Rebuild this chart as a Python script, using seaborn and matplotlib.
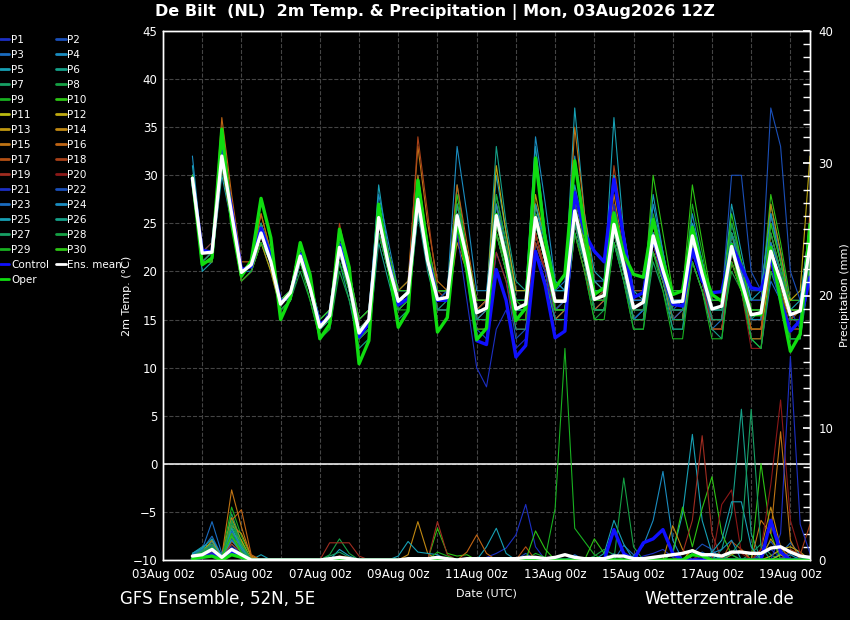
import pandas as pd
import matplotlib
matplotlib.use('Agg')
import matplotlib.pyplot as plt
import matplotlib.dates as mdates
from matplotlib.ticker import MultipleLocator
import seaborn as sns

# 6-hourly steps, 03Aug 18z .. 19Aug 12z
times = pd.date_range('2026-08-03 18:00', periods=64, freq='6h')

"""2m temperature (degC), groups of 4 = 18z, 00z, 06z, 12z"""
t_P1 = [30, 22, 22, 32, 26, 20, 21, 24, 21, 17, 18, 22, 18, 14, 16, 23, 19, 14, 15, 26, 21, 17, 18, 28, 22, 18, 18, 27, 22, 16, 16, 24,
        20, 15, 15, 23, 20, 16, 17, 27, 22, 18, 18, 26, 21, 17, 17, 24, 21, 17, 17, 23, 19, 16, 16, 21, 18, 15, 15, 20, 18, 14, 14, 21]
t_P2 = [29, 22, 22, 32, 26, 20, 20, 24, 21, 16, 17, 21, 18, 14, 15, 22, 18, 13, 14, 24, 20, 16, 17, 26, 21, 16, 16, 24, 20, 14, 13, 22,
        19, 13, 14, 23, 20, 15, 16, 25, 21, 16, 17, 24, 20, 15, 16, 22, 19, 16, 17, 25, 21, 17, 17, 30, 30, 20, 18, 26, 22, 17, 17, 23]
t_P3 = [30, 21, 22, 31, 25, 20, 21, 25, 22, 17, 18, 22, 19, 15, 16, 23, 20, 14, 15, 27, 22, 18, 18, 29, 22, 18, 18, 26, 22, 17, 17, 27,
        23, 17, 17, 26, 22, 18, 19, 28, 23, 19, 19, 25, 21, 16, 17, 24, 21, 18, 18, 22, 19, 14, 15, 21, 18, 13, 12, 19, 17, 13, 13, 22]
t_P4 = [32, 22, 23, 32, 26, 20, 21, 24, 21, 16, 17, 21, 18, 14, 15, 22, 18, 13, 14, 25, 21, 17, 17, 27, 21, 17, 18, 27, 22, 16, 17, 28,
        23, 17, 17, 27, 22, 17, 17, 25, 21, 16, 16, 24, 20, 15, 16, 25, 21, 17, 17, 24, 20, 17, 17, 25, 21, 17, 17, 24, 20, 16, 16, 23]
t_P5 = [30, 20, 21, 30, 25, 19, 20, 23, 21, 17, 18, 21, 18, 14, 15, 24, 19, 13, 15, 29, 22, 17, 18, 27, 21, 17, 17, 25, 22, 16, 17, 30,
        24, 18, 18, 33, 24, 19, 18, 37, 26, 20, 19, 36, 24, 18, 18, 28, 22, 17, 17, 25, 20, 16, 16, 23, 19, 15, 15, 22, 19, 15, 16, 25]
t_P6 = [29, 22, 23, 33, 27, 20, 21, 25, 21, 17, 17, 21, 18, 13, 14, 21, 17, 12, 13, 23, 19, 15, 16, 26, 20, 16, 17, 29, 22, 17, 17, 33,
        25, 19, 18, 31, 24, 18, 18, 27, 22, 17, 18, 26, 21, 16, 17, 24, 20, 15, 15, 22, 19, 15, 15, 23, 20, 15, 16, 23, 20, 16, 16, 24]
t_P7 = [30, 22, 22, 32, 26, 20, 21, 24, 21, 16, 17, 22, 18, 14, 15, 23, 19, 14, 15, 26, 21, 17, 18, 28, 21, 17, 17, 26, 21, 16, 16, 25,
        21, 15, 15, 24, 20, 16, 16, 26, 21, 16, 16, 23, 19, 14, 14, 21, 18, 14, 14, 22, 19, 15, 15, 24, 21, 17, 17, 27, 22, 16, 16, 22]
t_P8 = [29, 21, 21, 31, 25, 19, 20, 23, 20, 16, 17, 20, 17, 13, 14, 20, 17, 13, 15, 26, 22, 18, 19, 30, 23, 18, 18, 26, 21, 15, 16, 27,
        22, 16, 16, 24, 20, 15, 15, 24, 20, 15, 16, 25, 21, 15, 15, 22, 19, 15, 15, 22, 19, 14, 14, 20, 18, 13, 13, 21, 18, 14, 14, 20]
t_P9 = [30, 22, 22, 32, 26, 20, 21, 25, 22, 17, 18, 22, 19, 14, 15, 22, 18, 13, 14, 24, 20, 16, 16, 26, 21, 17, 17, 27, 22, 17, 17, 28,
        23, 17, 16, 25, 21, 16, 17, 26, 22, 17, 17, 25, 21, 16, 16, 26, 22, 17, 17, 27, 22, 16, 16, 24, 19, 14, 14, 20, 18, 14, 14, 21]
t_P10 = [30, 22, 22, 33, 27, 20, 21, 25, 21, 17, 18, 23, 19, 15, 16, 24, 20, 15, 16, 27, 22, 17, 17, 27, 21, 17, 17, 25, 21, 16, 16, 24,
         21, 16, 16, 26, 22, 17, 17, 28, 23, 18, 18, 26, 21, 16, 16, 24, 20, 16, 16, 23, 20, 15, 15, 24, 21, 17, 17, 28, 23, 17, 17, 25]
t_P11 = [29, 22, 22, 32, 26, 20, 21, 24, 21, 17, 18, 22, 18, 14, 15, 23, 19, 14, 15, 26, 21, 17, 18, 28, 22, 18, 18, 26, 21, 15, 16, 26,
         22, 16, 16, 27, 23, 17, 17, 28, 23, 18, 18, 26, 21, 17, 17, 25, 20, 16, 16, 22, 19, 15, 15, 21, 18, 14, 14, 20, 18, 15, 16, 24]
t_P12 = [30, 22, 22, 32, 26, 20, 20, 24, 21, 16, 17, 21, 18, 14, 15, 22, 18, 14, 15, 25, 21, 17, 18, 27, 22, 17, 17, 26, 21, 16, 17, 31,
         24, 18, 18, 26, 21, 16, 16, 25, 21, 16, 16, 23, 20, 15, 15, 22, 19, 15, 15, 23, 20, 16, 16, 24, 20, 16, 16, 22, 19, 17, 18, 32]
t_P13 = [29, 21, 21, 31, 25, 19, 20, 23, 20, 16, 17, 21, 18, 14, 15, 22, 18, 14, 15, 26, 21, 17, 17, 29, 22, 17, 17, 27, 22, 16, 16, 26,
         22, 16, 16, 28, 23, 17, 17, 27, 22, 17, 17, 24, 20, 15, 15, 23, 19, 15, 15, 21, 18, 14, 14, 22, 19, 15, 15, 26, 21, 16, 16, 25]
t_P14 = [30, 22, 22, 33, 26, 20, 21, 25, 21, 17, 18, 22, 19, 14, 15, 23, 19, 14, 15, 25, 21, 17, 17, 27, 21, 16, 16, 23, 20, 14, 14, 24,
         20, 15, 15, 24, 20, 15, 16, 27, 22, 17, 17, 25, 20, 15, 15, 22, 19, 15, 16, 24, 20, 16, 16, 23, 20, 16, 16, 27, 22, 16, 16, 23]
t_P15 = [30, 22, 22, 35, 27, 20, 21, 26, 22, 17, 18, 22, 19, 14, 15, 23, 19, 14, 15, 26, 22, 18, 19, 33, 25, 19, 18, 26, 21, 16, 16, 25,
         21, 15, 16, 26, 22, 17, 17, 35, 26, 19, 18, 28, 22, 16, 16, 24, 20, 15, 15, 24, 20, 15, 15, 22, 19, 14, 14, 21, 18, 14, 14, 22]
t_P16 = [29, 21, 22, 36, 28, 21, 21, 26, 22, 17, 17, 21, 18, 14, 15, 22, 18, 13, 14, 24, 21, 17, 18, 30, 23, 18, 18, 29, 23, 17, 17, 27,
         22, 16, 16, 24, 20, 15, 15, 25, 21, 16, 17, 27, 22, 17, 17, 25, 20, 15, 16, 22, 19, 14, 14, 21, 18, 13, 13, 24, 20, 15, 15, 26]
t_P17 = [30, 22, 22, 32, 26, 20, 21, 24, 21, 16, 17, 22, 18, 14, 15, 24, 20, 14, 15, 24, 20, 16, 17, 27, 21, 16, 16, 25, 21, 15, 15, 24,
         20, 15, 15, 24, 20, 15, 15, 24, 20, 16, 16, 26, 21, 17, 17, 24, 20, 16, 16, 22, 19, 15, 15, 21, 18, 14, 14, 22, 19, 15, 15, 21]
t_P18 = [29, 22, 22, 32, 26, 20, 21, 25, 22, 17, 17, 23, 19, 14, 15, 25, 20, 15, 16, 26, 21, 17, 18, 34, 26, 18, 17, 26, 21, 16, 17, 25,
         21, 16, 16, 23, 20, 16, 17, 27, 22, 17, 18, 31, 24, 18, 18, 24, 20, 16, 16, 23, 20, 16, 16, 24, 20, 15, 15, 22, 19, 15, 16, 24]
t_P19 = [30, 22, 22, 31, 25, 19, 20, 24, 21, 17, 18, 22, 18, 14, 15, 22, 18, 14, 15, 25, 21, 17, 18, 27, 21, 16, 16, 24, 20, 15, 15, 22,
         19, 14, 14, 22, 19, 15, 15, 25, 21, 17, 17, 26, 21, 17, 17, 23, 19, 16, 16, 22, 19, 14, 14, 22, 19, 15, 15, 23, 20, 15, 15, 22]
t_P20 = [30, 22, 23, 32, 26, 20, 21, 24, 21, 17, 17, 21, 18, 14, 15, 23, 19, 14, 15, 27, 22, 17, 17, 27, 21, 17, 17, 27, 22, 16, 16, 25,
         21, 15, 15, 24, 20, 16, 16, 26, 22, 18, 18, 27, 22, 17, 17, 25, 21, 17, 17, 24, 20, 16, 16, 22, 18, 12, 12, 20, 18, 14, 14, 21]
t_P21 = [29, 22, 22, 32, 26, 20, 21, 24, 21, 16, 17, 21, 18, 14, 15, 22, 18, 13, 14, 24, 20, 16, 17, 26, 21, 16, 16, 24, 17, 10, 8, 14,
         16, 12, 13, 22, 20, 15, 15, 26, 22, 17, 17, 27, 22, 17, 17, 25, 21, 16, 16, 22, 19, 15, 15, 24, 21, 17, 17, 26, 21, 16, 14, 21]
t_P22 = [30, 22, 22, 32, 26, 20, 21, 24, 21, 17, 18, 22, 19, 14, 15, 22, 18, 14, 15, 25, 21, 17, 17, 28, 22, 17, 18, 26, 21, 16, 16, 26,
         22, 16, 16, 25, 21, 16, 17, 27, 22, 17, 17, 25, 21, 16, 16, 24, 20, 15, 16, 23, 20, 16, 16, 24, 21, 18, 18, 37, 33, 20, 17, 22]
t_P23 = [30, 22, 22, 32, 26, 20, 20, 24, 21, 16, 17, 21, 18, 14, 15, 23, 19, 14, 15, 26, 22, 17, 17, 27, 21, 17, 17, 25, 21, 15, 16, 26,
         22, 16, 16, 25, 21, 16, 16, 25, 21, 16, 16, 23, 19, 15, 16, 24, 21, 17, 17, 25, 21, 16, 16, 23, 20, 16, 16, 23, 20, 15, 15, 22]
t_P24 = [30, 22, 22, 32, 26, 20, 21, 25, 22, 17, 18, 23, 19, 15, 16, 24, 20, 15, 16, 28, 23, 18, 18, 28, 22, 18, 18, 33, 26, 18, 18, 27,
         22, 17, 17, 34, 27, 19, 18, 32, 25, 18, 18, 30, 23, 17, 17, 27, 22, 17, 17, 26, 21, 16, 16, 24, 20, 15, 15, 23, 20, 15, 15, 23]
t_P25 = [31, 22, 22, 31, 26, 20, 21, 25, 21, 17, 18, 23, 18, 14, 15, 24, 19, 14, 15, 27, 22, 17, 18, 29, 22, 17, 17, 26, 21, 16, 16, 26,
         22, 16, 16, 27, 23, 18, 18, 29, 24, 19, 18, 30, 24, 18, 17, 24, 20, 16, 16, 25, 21, 17, 17, 27, 22, 17, 18, 26, 21, 16, 17, 25]
t_P26 = [30, 21, 22, 32, 26, 20, 21, 24, 21, 16, 17, 21, 18, 14, 15, 23, 18, 14, 15, 25, 21, 17, 17, 27, 22, 17, 17, 27, 22, 16, 16, 24,
         20, 14, 14, 22, 19, 15, 15, 24, 21, 16, 16, 23, 20, 15, 15, 22, 19, 14, 14, 21, 18, 14, 13, 22, 19, 13, 12, 20, 17, 13, 13, 20]
t_P27 = [30, 22, 22, 32, 26, 20, 21, 25, 21, 17, 17, 22, 18, 14, 15, 22, 18, 13, 14, 24, 20, 16, 17, 26, 21, 16, 16, 25, 21, 15, 15, 25,
         21, 16, 16, 25, 21, 16, 16, 25, 21, 16, 16, 24, 20, 15, 15, 23, 20, 15, 15, 23, 20, 15, 15, 24, 21, 16, 16, 25, 21, 16, 16, 23]
t_P28 = [29, 22, 22, 32, 26, 20, 21, 24, 21, 17, 18, 22, 18, 14, 15, 23, 19, 14, 15, 26, 21, 17, 18, 28, 22, 18, 18, 26, 21, 16, 16, 26,
         22, 16, 16, 26, 21, 17, 17, 26, 21, 16, 16, 24, 21, 16, 16, 23, 20, 16, 16, 24, 20, 16, 16, 25, 21, 16, 16, 24, 20, 15, 15, 22]
t_P29 = [29, 21, 21, 31, 25, 19, 20, 23, 21, 16, 17, 21, 17, 13, 14, 21, 18, 13, 14, 24, 20, 16, 17, 27, 21, 17, 17, 25, 20, 14, 14, 24,
         20, 15, 15, 26, 21, 16, 16, 24, 20, 15, 15, 23, 19, 14, 14, 22, 18, 13, 13, 21, 18, 13, 13, 21, 18, 13, 12, 20, 18, 13, 13, 21]
t_P30 = [30, 22, 22, 33, 26, 20, 21, 24, 21, 17, 18, 23, 19, 15, 16, 24, 20, 15, 16, 26, 22, 18, 18, 28, 23, 18, 18, 28, 22, 17, 17, 26,
         22, 17, 17, 25, 21, 16, 16, 28, 23, 17, 17, 26, 21, 16, 17, 30, 24, 18, 18, 29, 23, 17, 17, 26, 21, 16, 16, 25, 21, 16, 16, 24]

t_control = [29.5, 22.2, 22.0, 32.5, 26.5, 20.2, 20.5, 24.5, 21.5, 16.8, 17.5, 21.8, 18.5, 14.5, 15.2, 22.8,
             19.0, 13.2, 14.6, 25.9, 21.0, 16.5, 17.2, 28.5, 21.8, 17.0, 17.0, 25.5, 20.5, 12.8, 12.4, 20.2,
             17.0, 11.1, 12.3, 22.1, 18.5, 13.1, 13.8, 28.2, 24.0, 22.1, 21.0, 29.6, 23.5, 17.3, 17.8, 23.5,
             19.8, 16.6, 16.4, 22.3, 19.0, 17.8, 17.9, 22.8, 20.5, 18.3, 18.1, 21.4, 17.0, 13.8, 14.9, 19.4]
t_oper = [29.7, 20.7, 21.4, 34.8, 25.0, 19.5, 21.1, 27.6, 23.5, 15.0, 17.3, 23.0, 19.7, 13.0, 14.5, 24.4,
          20.4, 10.4, 12.8, 27.0, 20.7, 14.2, 15.9, 29.5, 22.4, 13.7, 15.2, 25.3, 20.1, 12.9, 14.1, 25.9,
          21.1, 14.9, 16.2, 31.8, 23.2, 18.3, 19.7, 31.5, 24.6, 17.6, 18.3, 26.1, 21.8, 19.7, 19.4, 25.4,
          21.1, 17.6, 18.0, 24.6, 20.4, 17.6, 16.9, 22.8, 18.3, 15.5, 15.5, 22.5, 16.9, 11.7, 13.5, 24.9]
t_mean = [29.7, 21.9, 22.0, 32.0, 26.0, 19.9, 20.7, 24.0, 21.0, 16.6, 17.8, 21.6, 18.3, 14.2, 15.4, 22.5,
          18.7, 13.6, 15.0, 25.6, 20.7, 16.9, 17.8, 27.5, 21.1, 17.1, 17.3, 25.8, 21.4, 15.7, 16.2, 25.8,
          21.4, 16.1, 16.6, 25.6, 21.4, 16.9, 16.9, 26.3, 21.8, 17.1, 17.5, 24.9, 20.7, 16.2, 16.8, 23.7,
          20.1, 16.8, 16.9, 23.7, 19.7, 16.1, 16.4, 22.6, 19.0, 15.5, 15.7, 22.1, 19.0, 15.5, 15.9, 22.8]

"""Precipitation (mm per 6h)"""
p_P1 = [0.3, 0.4, 0.6, 0, 1.5, 0.6, 0, 0, 0, 0, 0, 0, 0, 0, 0, 0.2, 0, 0, 0, 0, 0, 0, 0, 0, 0, 0.3, 0, 0, 0, 0, 0.2, 0.5,
        0.9, 1.9, 4.2, 1.0, 0, 0, 0, 0.3, 0, 0, 0, 0.5, 0, 0, 0.3, 0.5, 0.8, 0.2, 0, 0, 0.3, 0, 0, 0.4, 0, 0, 0.3, 0.8, 0.2, 0, 0, 0.3]
p_P2 = [0.2, 0.5, 0.9, 0.1, 1.2, 0.4, 0, 0, 0, 0, 0, 0, 0, 0, 0, 0, 0, 0, 0, 0, 0, 0, 0, 0, 0, 0, 0, 0, 0, 0, 0, 0,
        0, 0, 0.5, 0, 0, 0, 0, 0, 0, 0, 0, 0, 0, 0.3, 0, 0, 0, 0, 0, 0.5, 1.2, 0.8, 0, 0, 0, 0, 0.5, 1.4, 0.4, 0, 0.3, 0]
p_P3 = [0.4, 0.8, 2.9, 0.5, 2.0, 0.8, 0, 0, 0, 0, 0, 0, 0, 0, 0, 0, 0, 0, 0, 0, 0, 0, 0, 0, 0, 0, 0, 0, 0, 0, 0, 0,
        0, 0, 0, 0, 0, 0, 0, 0.4, 0, 0, 0, 0, 1.1, 0.4, 0, 0, 0, 0, 0, 0, 0.6, 0.2, 0, 0, 0, 0, 0, 0, 0.5, 1.3, 0.4, 0]
p_P4 = [0.3, 0.6, 1.4, 0.2, 1.8, 0.5, 0.1, 0, 0, 0, 0, 0, 0, 0, 0, 0, 0, 0, 0, 0, 0, 0, 0, 0, 0, 0, 0, 0, 0, 0, 0, 0,
        0, 0, 0, 0, 0, 0, 0, 0, 0, 0, 0, 0, 0, 0.3, 1.1, 3.0, 6.7, 1.5, 0, 0, 0, 0, 0.3, 0, 0, 0, 0, 0, 0, 0.4, 0, 0]
p_P5 = [0.5, 1.0, 1.2, 0.3, 3.0, 1.0, 0, 0.4, 0, 0, 0, 0, 0, 0, 0, 0.8, 0.3, 0, 0, 0, 0, 0, 0, 0, 0, 0, 0, 0, 0, 0, 1.0, 2.4,
        0.5, 0, 0, 0, 0, 0, 0, 0, 0, 0, 0.5, 3.0, 1.2, 0, 0, 0, 0, 0.5, 3.5, 9.5, 3.0, 0.5, 0, 0, 0, 0, 0, 0, 0, 0, 0, 0]
p_P6 = [0.3, 0.7, 1.0, 0.2, 2.2, 0.9, 0, 0, 0, 0, 0, 0, 0, 0, 0, 0, 0, 0, 0, 0, 0, 0, 0, 0, 0, 0, 0, 0, 0, 0, 0, 0,
        0, 0, 0, 0, 0, 0, 0, 0, 0, 0, 0, 0, 0, 0, 0, 0, 0, 0, 0, 0, 0, 0, 0.8, 3.5, 11.4, 2.0, 0, 0, 0, 0, 0, 0]
p_P7 = [0.4, 0.9, 1.1, 0.2, 3.5, 1.4, 0, 0, 0, 0, 0, 0, 0, 0, 0.3, 0.6, 0.2, 0, 0, 0, 0, 0, 0, 0, 0, 0, 0, 0, 0, 0, 0, 0,
        0, 0, 0, 0, 0, 0, 0, 0, 0, 0, 0, 0, 0, 0, 0, 0, 0, 0, 0, 0, 0, 0, 0, 0, 0, 0.5, 1.2, 0.4, 0, 0, 0, 0]
p_P8 = [0.3, 0.5, 0.8, 0.2, 2.8, 1.2, 0, 0, 0, 0, 0, 0, 0, 0, 0.4, 1.6, 0.5, 0, 0, 0, 0, 0, 0, 0, 0, 0, 0, 0, 0, 0, 0, 0,
        0, 0, 0, 0, 0, 0, 0, 0, 0, 0, 0, 0, 6.2, 1.0, 0, 0, 0, 0, 0, 0, 0, 0, 0, 0, 0, 0, 0, 0, 0, 0, 0, 0]
p_P9 = [0.2, 0.6, 1.0, 0.3, 4.0, 1.8, 0.2, 0, 0, 0, 0, 0, 0, 0, 0, 0, 0, 0, 0, 0, 0, 0, 0, 0, 0, 0, 0, 0, 0, 0, 0, 0,
        0, 0, 0, 0.5, 0.2, 3.9, 16.0, 2.4, 1.4, 0.4, 0, 0, 0, 0, 0, 0, 0, 0, 0, 0, 0, 0, 0, 0, 0, 0, 0, 0, 0, 0, 0, 0]
p_P10 = [0.3, 0.8, 1.2, 0.2, 2.5, 0.7, 0, 0, 0, 0, 0, 0, 0, 0, 0, 0, 0, 0, 0, 0, 0, 0, 0, 0, 0, 2.4, 0.5, 0.3, 0.4, 0, 0, 0,
         0, 0, 0, 0, 0, 0, 0, 0, 0, 0, 0, 0, 0, 0, 0, 0, 0, 0.5, 4.0, 1.0, 3.9, 6.3, 2.0, 0.4, 0, 0, 7.3, 2.0, 0, 0, 0, 0]
p_P11 = [0.2, 0.4, 0.7, 0.1, 2.0, 1.5, 0, 0, 0, 0, 0, 0, 0, 0, 0, 0, 0, 0, 0, 0, 0, 0, 0, 0, 0, 0, 0, 0, 0, 0, 0, 0,
         0, 0, 0, 0, 0, 0, 0, 0, 0, 0, 0, 0, 0, 0, 0, 0, 0, 0, 0, 0.8, 0.4, 0, 0, 0, 0, 0, 0, 0, 0.4, 0, 0, 0]
p_P12 = [0.3, 0.5, 0.8, 0.1, 1.6, 1.2, 0, 0, 0, 0, 0, 0, 0, 0, 0, 0, 0, 0, 0, 0, 0, 0, 0, 0, 0, 0, 0, 0, 0, 0, 0, 0,
         0, 0, 0, 0, 0, 0, 0, 0, 0, 0, 0, 0, 0, 0, 0, 0, 0, 0, 0, 0, 0, 0, 0, 0, 0, 0, 0, 0.3, 0.8, 1.0, 0.6, 0]
p_P13 = [0.3, 0.6, 1.5, 0.2, 3.2, 1.4, 0, 0, 0, 0, 0, 0, 0, 0, 0, 0, 0, 0, 0, 0, 0, 0, 0, 0, 0, 0, 0, 0, 0, 0, 0, 0,
         0, 0, 0, 0, 0, 0, 0, 0, 0, 0, 0, 0, 0, 0, 0, 0, 0, 0, 0, 0, 0, 0, 0, 0.4, 0.8, 0, 0, 1.6, 0.5, 0, 0, 0]
p_P14 = [0.2, 0.4, 1.0, 0.2, 2.6, 2.0, 0.3, 0, 0, 0, 0, 0, 0, 0, 0, 0, 0, 0, 0, 0, 0, 0, 0.4, 2.9, 0.5, 0, 0, 0, 0, 0, 0, 0,
         0, 0, 0, 0, 0, 0, 0, 0, 0, 0, 0, 0, 0, 0, 0, 0, 0, 2.6, 0.8, 0, 0, 0, 0, 0, 0, 0, 0.8, 4.0, 1.0, 0, 0, 0]
p_P15 = [0.3, 0.6, 1.2, 0.3, 5.3, 2.5, 0.2, 0, 0, 0, 0, 0, 0, 0, 0, 0, 0, 0, 0, 0, 0, 0, 0, 0, 0, 0, 0, 0, 0, 0, 0, 0,
         0, 0, 0, 0, 0, 0, 0, 0, 0, 0, 0, 0, 0, 0, 0, 0, 0, 0, 0, 0, 0, 0, 0, 0, 0, 0, 3.0, 2.0, 9.7, 1.5, 0, 0]
p_P16 = [0.2, 0.5, 1.0, 0.2, 3.0, 3.8, 0.4, 0, 0, 0, 0, 0, 0, 0, 0, 0, 0, 0, 0, 0, 0, 0, 0, 0, 0, 0, 0, 0, 0.6, 1.9, 0.5, 0,
         0, 0, 0, 0, 0, 0, 0, 0, 0, 0, 0, 0, 0, 0, 0, 0, 0, 0, 0, 0, 0, 0, 0, 0, 0, 0, 0, 0, 0, 0, 0, 0]
p_P17 = [0.2, 0.4, 0.7, 0.2, 1.4, 0.8, 0, 0, 0, 0, 0, 0, 0, 0, 0, 0.3, 0.2, 0, 0, 0, 0, 0, 0, 0, 0, 0, 0, 0, 0, 0, 0, 0,
         0, 0, 1.0, 0, 0, 0, 0, 0, 0, 0, 0, 0, 0, 0, 0, 0, 0, 0, 0, 0, 0, 0, 0, 1.4, 0.8, 0, 0, 0, 0, 0, 0, 0]
p_P18 = [0.3, 0.5, 0.6, 0.2, 1.2, 0.6, 0, 0, 0, 0, 0, 0, 0, 0, 0, 0, 0, 0, 0, 0, 0, 0, 0, 0, 0, 0, 0, 0, 0, 0, 0, 0,
         0, 0, 0, 0, 0, 0, 0, 0, 0, 0, 0, 0, 0, 0, 0, 0, 0, 0, 0, 0, 0, 0, 0, 0, 0, 0, 0, 0, 0, 0.8, 0.4, 2.7]
p_P19 = [0.2, 0.3, 0.5, 0.1, 0.9, 0.4, 0, 0, 0, 0, 0, 0, 0, 0, 1.3, 1.3, 1.3, 0.3, 0, 0, 0, 0, 0, 0, 0, 2.9, 0.4, 0, 0, 0, 0, 0,
         0, 0, 0, 0, 0, 0, 0, 0, 0, 0, 0, 0, 0, 0, 0, 0, 0, 0, 0.5, 3.0, 9.4, 2.0, 0, 0, 0, 0, 0, 0, 0, 0, 0, 0]
p_P20 = [0.2, 0.3, 0.4, 0.1, 0.8, 0.3, 0, 0, 0, 0, 0, 0, 0, 0, 0, 0, 0, 0, 0, 0, 0, 0, 0, 0, 0, 0, 0, 0, 0, 0, 0, 0,
         0, 0, 0, 0, 0, 0, 0, 0, 0, 0, 0, 0, 0, 0, 0, 0, 0, 0, 0, 0, 0.5, 0, 4.2, 5.3, 0.5, 0, 0.8, 5.7, 12.1, 3.0, 0.5, 0]
p_P21 = [0.2, 0.4, 0.6, 0.1, 1.0, 0.4, 0, 0, 0, 0, 0, 0, 0, 0, 0, 0, 0, 0, 0, 0, 0, 0, 0, 0, 0, 0, 0, 0, 0, 0, 0, 0,
         0, 0, 0, 0, 0, 0, 0, 0, 0, 0, 0, 0, 0, 0, 0, 0, 0, 0, 0, 0, 0, 0, 0, 0, 0, 0, 0, 0, 2.0, 15.4, 2.7, 0.5]
p_P22 = [0.3, 0.6, 1.1, 0.2, 1.6, 0.7, 0, 0, 0, 0, 0, 0, 0, 0, 0, 0, 0, 0, 0, 0, 0, 0, 0, 0, 0, 0, 0, 0, 0, 0, 0, 0,
         0, 0, 0, 0, 0, 0, 0, 0, 0, 0, 0, 0, 0, 0, 0, 0, 0, 0, 0, 0, 0, 0, 0, 0, 0, 0, 0, 0, 0, 0.6, 0.3, 0]
p_P23 = [0.4, 0.8, 1.8, 0.3, 2.2, 0.9, 0, 0, 0, 0, 0, 0, 0, 0, 0, 0, 0, 0, 0, 0, 0, 0, 0, 0, 0, 0, 0, 0, 0, 0, 0, 0,
         0, 0, 0, 0, 0, 0, 0, 0, 0, 0, 0, 0, 0, 0, 0, 0, 0, 0, 0, 0, 0, 0, 0, 0, 0, 0, 0, 0, 0, 0, 0, 0]
p_P24 = [0.3, 0.5, 0.9, 0.2, 1.5, 0.6, 0, 0, 0, 0, 0, 0, 0, 0, 0, 0, 0, 0, 0, 0, 0, 0, 0, 0, 0, 0, 0, 0, 0, 0, 0, 0,
         0, 0, 0, 0, 0, 0, 0, 0, 0, 0, 0, 0, 0, 0, 0, 0, 0, 0, 0, 0, 0, 0.5, 0.8, 1.5, 0, 0, 0, 0, 0, 0, 0, 0]
p_P25 = [0.5, 0.9, 1.6, 0.3, 2.4, 1.0, 0, 0, 0, 0, 0, 0, 0, 0, 0, 0, 0, 0, 0, 0, 0, 0.3, 1.4, 0.6, 0.5, 0.4, 0, 0, 0, 0, 0, 0,
         0, 0, 0, 0, 0, 0, 0, 0, 0, 0, 0, 0, 0, 0, 0, 0, 0, 0, 0, 0, 0, 0.6, 1.5, 4.4, 4.4, 1.0, 0, 0, 0, 0, 0, 0]
p_P26 = [0.3, 0.6, 1.0, 0.2, 1.8, 0.8, 0, 0, 0, 0, 0, 0, 0, 0, 0, 0, 0, 0, 0, 0, 0, 0, 0, 0, 0, 0, 0, 0, 0, 0, 0, 0,
         0, 0, 0, 0, 0, 0, 0, 0, 0, 0, 0, 0, 0, 0, 0, 0, 0, 0, 0, 0, 0, 0, 0, 0, 0, 0, 0, 0, 0, 0, 0, 0]
p_P27 = [0.3, 0.7, 1.2, 0.2, 2.6, 1.1, 0, 0, 0, 0, 0, 0, 0, 0, 0, 0, 0, 0, 0, 0, 0, 0, 0, 0, 0, 0, 0, 0, 0, 0, 0, 0,
         0, 0, 0, 0, 0, 0, 0, 0, 0, 0, 0, 0, 0, 0, 0, 0, 0, 0, 0, 0, 0, 0, 0, 0.5, 1.5, 11.4, 1.0, 0, 0, 0, 0, 0]
p_P28 = [0.3, 0.6, 1.0, 0.2, 3.0, 1.3, 0, 0, 0, 0, 0, 0, 0, 0, 0, 0, 0, 0, 0, 0, 0, 0, 0, 0, 0, 0, 0, 0, 0, 0, 0, 0,
         0, 0, 0, 0, 0, 0, 0, 0, 0, 0.3, 0.8, 0.4, 0, 0, 0, 0, 0, 0, 0, 0, 0, 0, 0, 0, 0, 0, 0, 0, 0, 0, 0, 0]
p_P29 = [0.2, 0.5, 0.8, 0.2, 2.0, 0.6, 0, 0, 0, 0, 0, 0, 0, 0, 0, 0, 0, 0, 0, 0, 0, 0, 0, 0, 0, 0.6, 0.3, 0, 0, 0, 0, 0,
         0, 0, 0, 0, 0, 0, 0, 0, 0, 0, 0, 0, 0, 0, 0, 0, 0, 0, 0, 0, 0, 0, 0, 0, 0, 0, 0, 0, 0, 0, 0, 0]
p_P30 = [0.2, 0.5, 0.9, 0.2, 1.8, 0.5, 0, 0, 0, 0, 0, 0, 0, 0, 0, 0, 0, 0, 0, 0, 0, 0, 0, 0, 0, 0, 0, 0, 0, 0, 0, 0,
         0, 0, 0, 2.2, 0.8, 0, 0, 0, 0, 1.6, 0.5, 0, 0, 0, 0, 0, 0, 0, 0, 0, 0, 0, 0, 0, 0, 0, 0, 0, 0, 0, 0, 0]

p_control = [0.1, 0.2, 0.4, 0, 0.6, 0.2, 0, 0, 0, 0, 0, 0, 0, 0, 0, 0, 0, 0, 0, 0, 0, 0, 0, 0, 0, 0, 0, 0, 0, 0, 0, 0,
             0, 0, 0, 0, 0, 0, 0, 0, 0, 0, 0, 2.3, 0.5, 0, 1.3, 1.6, 2.3, 0.5, 0, 0, 0, 0, 0, 0, 0, 0, 0, 3.0, 0.6, 0, 0, 0]
p_oper = [0.1, 0.2, 0.3, 0, 0.4, 0.2, 0, 0, 0, 0, 0, 0, 0, 0, 0, 0, 0, 0, 0, 0, 0, 0, 0, 0, 0, 0, 0, 0, 0, 0, 0, 0,
          0, 0, 0, 0, 0, 0, 0, 0, 0, 0, 0, 0, 0, 0, 0, 0, 0, 0, 0, 0.4, 0.3, 0, 0, 0, 0, 0, 0, 0, 0, 0, 0, 0]
p_mean = [0.3, 0.4, 0.8, 0.2, 0.8, 0.4, 0, 0, 0, 0, 0, 0, 0, 0, 0.1, 0.2, 0.1, 0, 0, 0, 0, 0, 0.1, 0.1, 0.1, 0.2, 0.1, 0, 0.1, 0.1, 0.1, 0.1,
          0.1, 0.1, 0.2, 0.2, 0.1, 0.2, 0.4, 0.2, 0.1, 0.1, 0.1, 0.3, 0.3, 0.1, 0.1, 0.2, 0.3, 0.4, 0.5, 0.7, 0.4, 0.4, 0.3, 0.6,
          0.6, 0.5, 0.5, 0.9, 1.0, 0.6, 0.3, 0.2]

palette20 = ['#1c2fc4', '#1a4fb8', '#1a6cc0', '#1a8cc0', '#17a0b4', '#15a088', '#17a064', '#15a044', '#18b020', '#2cc414',
             '#bcbc10', '#c0aa10', '#c09810', '#c08812', '#c07414', '#c06414', '#b45014', '#a84018', '#a02c20', '#8c1818']

temp_members = [t_P1, t_P2, t_P3, t_P4, t_P5, t_P6, t_P7, t_P8, t_P9, t_P10, t_P11, t_P12, t_P13, t_P14, t_P15,
                t_P16, t_P17, t_P18, t_P19, t_P20, t_P21, t_P22, t_P23, t_P24, t_P25, t_P26, t_P27, t_P28, t_P29, t_P30]
prec_members = [p_P1, p_P2, p_P3, p_P4, p_P5, p_P6, p_P7, p_P8, p_P9, p_P10, p_P11, p_P12, p_P13, p_P14, p_P15,
                p_P16, p_P17, p_P18, p_P19, p_P20, p_P21, p_P22, p_P23, p_P24, p_P25, p_P26, p_P27, p_P28, p_P29, p_P30]

sns.set_theme(style='dark', rc={
    'figure.facecolor': 'black', 'axes.facecolor': 'black', 'savefig.facecolor': 'black',
    'axes.edgecolor': 'white', 'text.color': 'white', 'axes.labelcolor': 'white',
    'xtick.color': 'white', 'ytick.color': 'white',
    'grid.color': '#444444', 'grid.linestyle': '--', 'grid.linewidth': 0.8,
})
plt.rcParams['font.family'] = ['DejaVu Sans']

fig = plt.figure(figsize=(8.5, 6.2), dpi=100)
ax = fig.add_axes([163 / 850, 60 / 620, 647 / 850, 529 / 620])
ax2 = ax.twinx()

for k in range(30):
    col = palette20[k % 20]
    sns.lineplot(x=times, y=temp_members[k], ax=ax, color=col, lw=0.8, label=f'P{k + 1}')
    sns.lineplot(x=times, y=prec_members[k], ax=ax2, color=col, lw=0.8)

sns.lineplot(x=times, y=t_control, ax=ax, color='#1010ff', lw=2.4, label='Control')
sns.lineplot(x=times, y=t_oper, ax=ax, color='#10dd10', lw=2.4, label='Oper')
sns.lineplot(x=times, y=t_mean, ax=ax, color='white', lw=2.4, label='Ens. mean')
sns.lineplot(x=times, y=p_control, ax=ax2, color='#1010ff', lw=2.4)
sns.lineplot(x=times, y=p_oper, ax=ax2, color='#10dd10', lw=2.4)
sns.lineplot(x=times, y=p_mean, ax=ax2, color='white', lw=2.4)

ax.axhline(0, color='white', lw=1.1)

# temperature axis
ax.set_ylim(-10, 45)
ax.yaxis.set_major_locator(MultipleLocator(5))
ax.set_xlim(pd.Timestamp('2026-08-03 00:00'), pd.Timestamp('2026-08-19 12:00'))
ax.set_xticks(pd.date_range('2026-08-03', '2026-08-19', freq='2D'))
ax.set_xticks(pd.date_range('2026-08-03', '2026-08-19', freq='D'), minor=True)
ax.xaxis.set_major_formatter(mdates.DateFormatter('%d%b %Hz'))
ax.tick_params(axis='y', which='both', length=0, labelsize=8.5, pad=4)
ax.tick_params(axis='x', which='both', length=0, labelsize=8.5, pad=6)
ax.grid(True, which='both', axis='x')
ax.grid(True, which='major', axis='y')
ax.set_ylabel('2m Temp. (°C)', fontsize=8)
ax.yaxis.set_label_coords(-(163 - 132) / 647, 0.5)
ax.set_xlabel('Date (UTC)', fontsize=8, labelpad=5)

# precipitation axis
ax2.set_ylim(0, 40)
ax2.yaxis.set_major_locator(MultipleLocator(10))
ax2.yaxis.set_minor_locator(MultipleLocator(1))
ax2.tick_params(axis='y', which='both', direction='in', length=5, color='white', labelsize=8.5, pad=6)
ax2.grid(False)
ax2.set_ylabel('Precipitation (mm)', fontsize=8)
ax2.yaxis.set_label_coords(1 + (840 - 810) / 647, 0.5)

for a in (ax, ax2):
    for s in a.spines.values():
        s.set_color('white')
        s.set_linewidth(1.0)

# legend, row-wise in two columns
handles, labels = ax.get_legend_handles_labels()
if ax.get_legend() is not None:
    ax.get_legend().remove()
if ax2.get_legend() is not None:
    ax2.get_legend().remove()
lookup = dict(zip(labels, handles))
order = [f'P{k}' for k in range(1, 31, 2)] + ['Control', 'Oper'] + [f'P{k}' for k in range(2, 31, 2)] + ['Ens. mean']
leg = fig.legend([lookup[n] for n in order], order, loc='upper left', bbox_to_anchor=(0.0, 1 - 35 / 620),
                 ncol=2, fontsize=7.5, frameon=False, handlelength=0.9, handletextpad=0.15,
                 columnspacing=0.7, labelspacing=0.48, borderpad=0, borderaxespad=0)
for line in leg.get_lines():
    line.set_linewidth(2)

fig.text(0.512, 1 - 12 / 620, 'De Bilt  (NL)  2m Temp. & Precipitation | Mon, 03Aug2026 12Z',
         ha='center', va='center', fontsize=11.5, fontweight='bold')
fig.text(120 / 850, 1 - 599 / 620, 'GFS Ensemble, 52N, 5E', ha='left', va='center', fontsize=12)
fig.text(794 / 850, 1 - 599 / 620, 'Wetterzentrale.de', ha='right', va='center', fontsize=12)

fig.savefig('out.png', dpi=100, facecolor='black')
